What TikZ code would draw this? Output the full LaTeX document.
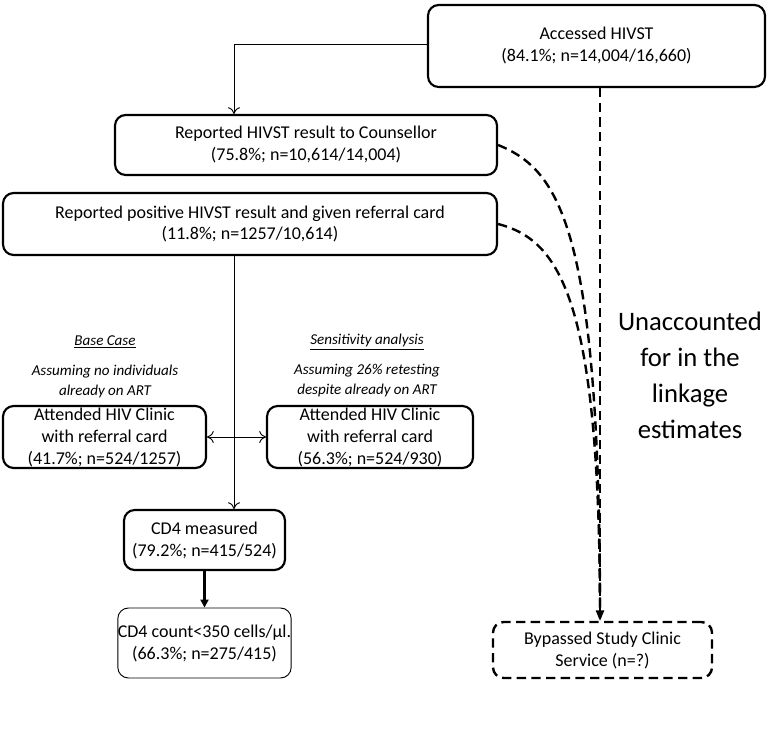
\documentclass[tikz,border=0pt]{standalone}
\usepackage{fontspec}
\setmainfont{Carlito}
\usetikzlibrary{arrows.meta}
\begin{document}
\begin{tikzpicture}[x=0.75pt,y=-0.75pt,
 box/.style={draw,rounded corners=8pt,line width=1.6pt,align=center,font=\fontsize{13.5}{16.5}\selectfont,inner sep=0pt},
 lbl/.style={align=center,font=\fontsize{11.3}{15}\selectfont\itshape},
 dsh/.style={dash pattern=on 7pt off 4pt,line width=1.8pt},
 arr/.style={-{To[length=5pt,width=9pt]},line width=0.7pt}]
\useasboundingbox (0,0) rectangle (780,737);
\node[box,minimum width=337pt*0.75,minimum height=82pt*0.75] (acc) at (596.5,46) {Accessed HIVST\\(84.1\%; n=14,004/16,660)};
\node[box,minimum width=382*0.75pt,minimum height=60*0.75pt] (rep) at (306,145) {Reported HIVST result to Counsellor\\(75.8\%; n=10,614/14,004)};
\node[box,minimum width=494*0.75pt,minimum height=62*0.75pt] (pos) at (250,224) {Reported positive HIVST result and given referral card\\(11.8\%; n=1257/10,614)};
\node[box,minimum width=203*0.75pt,minimum height=62*0.75pt] (al) at (104.5,437) {Attended HIV Clinic\\with referral card\\(41.7\%; n=524/1257)};
\node[box,minimum width=206*0.75pt,minimum height=62*0.75pt] (ar) at (370,437) {Attended HIV Clinic\\with referral card\\(56.3\%; n=524/930)};
\node[box,minimum width=161*0.75pt,minimum height=60*0.75pt] (cd) at (204.5,540) {CD4 measured\\(79.2\%; n=415/524)};
\node[box,line width=0.7pt,minimum width=161*0.75pt,minimum height=70*0.75pt] (cc) at (204.5,643) {CD4 count<350 cells/µl.\\(66.3\%; n=275/415)};
\node[box,dsh,minimum width=219*0.75pt,minimum height=56*0.75pt] (by) at (602.5,650) {Bypassed Study Clinic\\Service (n=?)};
\node[lbl] (bc) at (105,342) {\underline{Base Case}};
\node[lbl] (bct) at (105,381) {Assuming no individuals\\already on ART};
\node[lbl] (sa) at (367,342) {\underline{Sensitivity analysis}};
\node[lbl] (sat) at (367,381) {Assuming 26\% retesting\\despite already on ART};
\node[align=center,font=\fontsize{20}{27}\selectfont] (un) at (690,375) {Unaccounted\\for in the\\linkage\\estimates};
\coordinate (j) at (234,44);
\coordinate (m) at (234,437);
\draw[arr] (acc.west|-j) -- (j) -- (j|-rep.north);
\draw[arr] (pos.south-|m) -- (m|-cd.north);
\draw[arr,{To[length=5pt,width=9pt]}-{To[length=5pt,width=9pt]}] (al.east) -- (ar.west);
\draw[-{Triangle[length=6pt,width=6pt]},line width=2pt] (cd.south) -- (cc.north);
\draw[dsh,-{Triangle[length=8pt,width=6pt]}] (acc.south-|600,0) -- (600,621);
\draw[dsh] (rep.east) .. controls (560,170) and (600,230) .. (600,618);
\draw[dsh] (pos.east) .. controls (560,240) and (600,300) .. (600,618);
\end{tikzpicture}
\end{document}
